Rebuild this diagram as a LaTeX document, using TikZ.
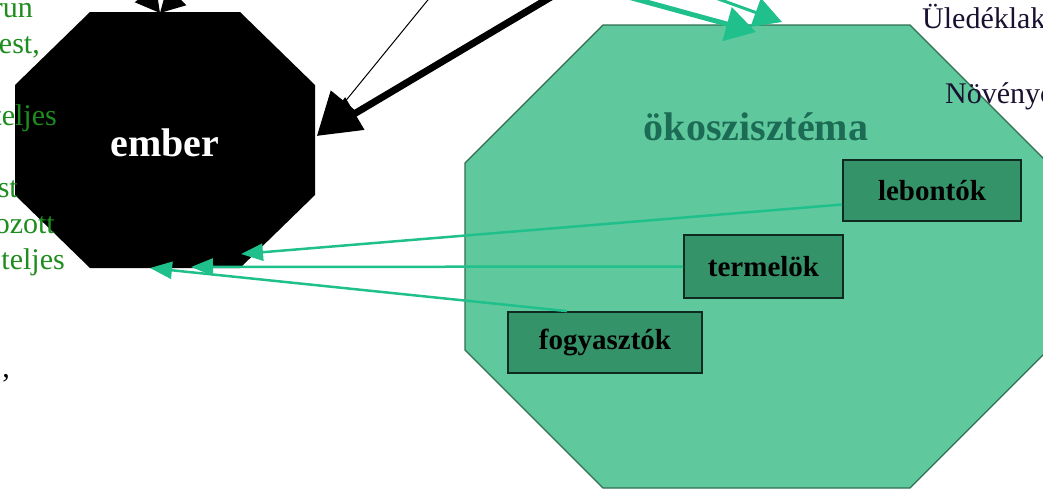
\documentclass[tikz,border=0pt]{standalone}
\usepackage{fontspec}
\setmainfont{Liberation Serif}
\usetikzlibrary{arrows.meta, positioning}

\definecolor{ecofill}{RGB}{95,201,157}
\definecolor{ecoline}{RGB}{46,110,80}
\definecolor{boxfill}{RGB}{53,147,106}
\definecolor{boxline}{RGB}{15,42,30}
\definecolor{ecotext}{RGB}{27,107,85}
\definecolor{flow}{RGB}{32,192,140}
\definecolor{notegreen}{RGB}{30,140,30}
\definecolor{notedark}{RGB}{26,16,48}

\begin{document}
\begin{tikzpicture}[x=1pt, y=-1pt,
    bigtitle/.style={font=\fontsize{40}{48}\selectfont\bfseries},
    role/.style={draw=boxline, line width=1.8pt, fill=boxfill, font=\fontsize{29}{34}\selectfont\bfseries,
        text=black, inner sep=0pt},
    note/.style={font=\fontsize{30}{36}\selectfont, anchor=base east, inner sep=0pt, text=notegreen},
    notebox/.style={font=\fontsize{30}{36}\selectfont, anchor=base west, inner sep=0pt, text=notedark},
    greenflow/.style={draw=flow, line width=2.5pt, -{Triangle[length=22pt, width=17pt]}},
    blackflow/.style={draw=black, -{Triangle[length=44pt, width=36pt]}}]
    \useasboundingbox (0,0) rectangle (1043,491);
    \clip (0,0) rectangle (1043,491);

    % the two octagons
    \fill[black] (90,12) -- (240,12) -- (315,85) -- (315,195) -- (240,268) -- (90,268) -- (15,195) -- (15,85) -- cycle;
    \draw[fill=ecofill, draw=ecoline, line width=1.2pt] (603,25) -- (910,25) -- (1048,163) -- (1048,350)
        -- (910,488) -- (603,488) -- (465,350) -- (465,163) -- cycle;

    \node[bigtitle, text=white] (ember) at (165,143) {ember};
    \node[bigtitle, text=ecotext] (okosz) at (756,127) {ökoszisztéma};

    \node[role, minimum width=178pt, minimum height=61pt] (lebontok) at (932,190.5) {lebontók};
    \node[role, minimum width=159pt, minimum height=63pt] (termelok) at (763.5,266.5) {termelök};
    \node[role, minimum width=194pt, minimum height=61pt] (fogyasztok) at (605,342.5) {fogyasztók};

    % arrow ends
    \coordinate (eb1) at (241,254);
    \coordinate (eb2) at (191,267);
    \coordinate (eb3) at (150,268);
    \coordinate (er) at (317,136);
    \coordinate (et) at (160,13);
    \coordinate (ot1) at (756,32);
    \coordinate (ot2) at (782,22);

    \coordinate (in1) at (556,-6);
    \coordinate (in2) at (436,-10);
    \coordinate (in3) at (115,-45);
    \coordinate (in4) at (212,-40);
    \coordinate (in5) at (610,-8);
    \coordinate (in6) at (688,-12);

    \draw[greenflow] ([yshift=-14pt]lebontok.west) -- (eb1);
    \draw[greenflow] (termelok.west) -- (eb2);
    \draw[greenflow] ([xshift=-38pt]fogyasztok.north) -- (eb3);

    \draw[blackflow, line width=7pt] (in1) -- (er);
    \draw[blackflow, line width=1pt] (in2) -- (er);
    \draw[blackflow, line width=3pt, -{Triangle[length=24pt, width=26pt]}] (in3) -- (et);
    \draw[blackflow, line width=3pt, -{Triangle[length=24pt, width=26pt]}] (in4) -- (et);

    \draw[greenflow, line width=5pt, -{Triangle[length=30pt, width=34pt]}] (in5) -- (ot1);
    \draw[greenflow, line width=3pt, -{Triangle[length=28pt, width=30pt]}] (in6) -- (ot2);

    % side texts
    \node[note] (n1) at (33,17) {run};
    \node[note] (n2) at (40,53) {est,};
    \node[note] (n3) at (57,125) {teljes};
    \node[note] (n4) at (18,197) {st};
    \node[note] (n5) at (55,233) {ozott};
    \node[note] (n6) at (65,269) {teljes};
    \node[note, text=black] (n7) at (10,377) {,};

    \node[notebox] (r1) at (922,28) {Üledéklak};
    \node[notebox] (r2) at (945,103) {Növényc};
\end{tikzpicture}
\end{document}
